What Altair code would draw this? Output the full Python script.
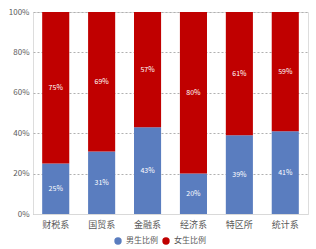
import altair as alt
import pandas as pd

departments = ["财税系", "国贸系", "金融系", "经济系", "特区所", "统计系"]
male = [0.25, 0.31, 0.43, 0.20, 0.39, 0.41]
female = [0.75, 0.69, 0.57, 0.80, 0.61, 0.59]
series = ["男生比例", "女生比例"]
colors = ["#5A7DBF", "#C00000"]

rows = []
for d, m, f in zip(departments, male, female):
    rows.append({"dept": d, "series": series[0], "order": 0, "value": m})
    rows.append({"dept": d, "series": series[1], "order": 1, "value": f})
df = pd.DataFrame(rows)

FONT = "Noto Sans CJK SC"

base = alt.Chart(df).transform_stack(
    stack="value", groupby=["dept"], as_=["y0", "y1"], sort=[alt.SortField("order", order="ascending")]
).transform_calculate(mid="(datum.y0 + datum.y1) / 2")

x = alt.X("dept:N", sort=departments, title=None,
          scale=alt.Scale(paddingInner=0.41, paddingOuter=0.2),
          axis=alt.Axis(labelAngle=0, labelFont=FONT, labelFontSize=9, labelColor="#595959",
                        domainColor="#D9D9D9", ticks=False, labelPadding=6))

bars = base.mark_bar().encode(
    x=x,
    y=alt.Y("y0:Q", title=None,
            scale=alt.Scale(domain=[0, 1]),
            axis=alt.Axis(format=".0%", values=[0, 0.2, 0.4, 0.6, 0.8, 1.0], labelFont=FONT,
                          labelFontSize=8, labelColor="#595959", domain=False, ticks=False,
                          gridDash=[2, 2], gridColor="#B0B0B0", labelPadding=4)),
    y2="y1:Q",
    color=alt.Color("series:N", sort=series, scale=alt.Scale(domain=series, range=colors),
                    legend=alt.Legend(title=None, orient="none", direction="horizontal",
                                      legendX=81, legendY=225, symbolType="circle", symbolSize=55,
                                      labelFont=FONT, labelFontSize=8, labelColor="#595959",
                                      columnPadding=4, symbolStrokeWidth=0)),
)

labels = base.mark_text(color="white", font=FONT, fontSize=7).encode(
    x=alt.X("dept:N", sort=departments),
    y=alt.Y("mid:Q"),
    text=alt.Text("value:Q", format=".0%"),
)

chart = (bars + labels).properties(
    width=275, height=202,
    autosize=alt.AutoSizeParams(type="none"),
    padding={"left": 33, "top": 12, "right": 8, "bottom": 35},
).configure_view(stroke=None).configure(background="white")

chart.save("out.html", embed_options={"renderer": "svg", "actions": False})
